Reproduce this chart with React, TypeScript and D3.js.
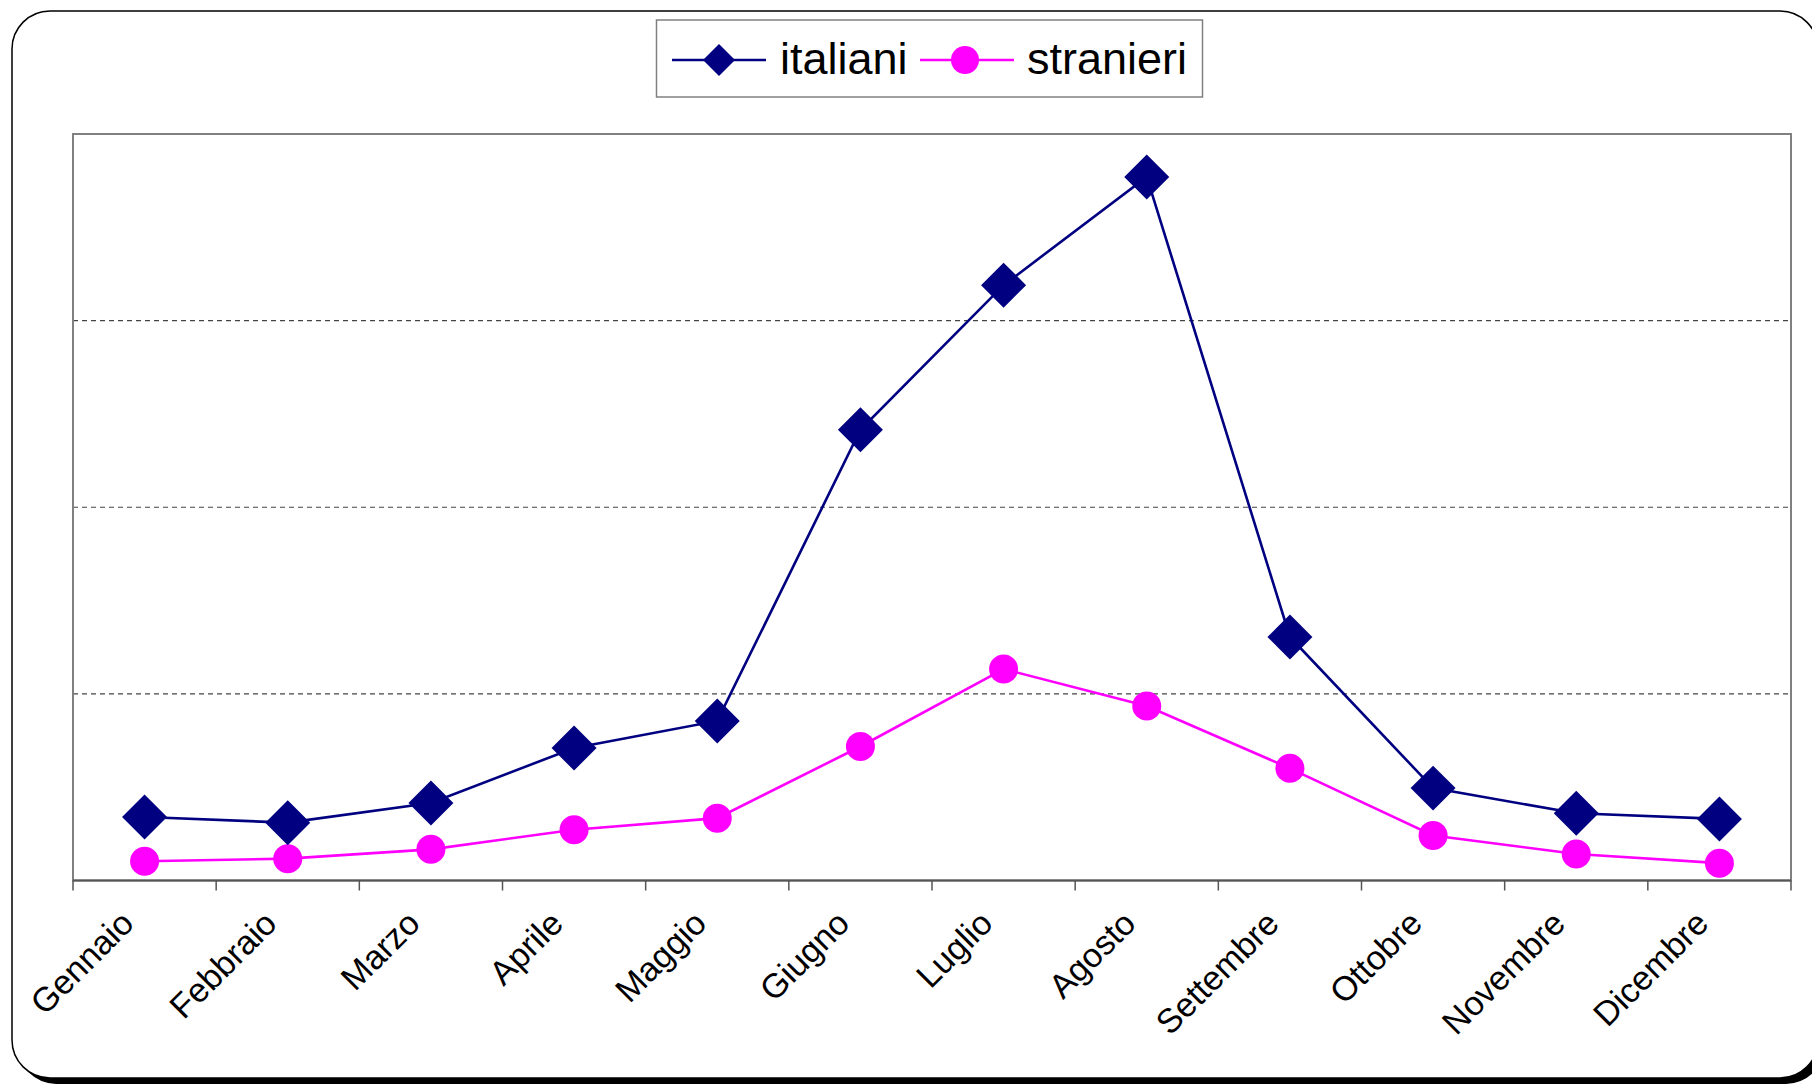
import React, { useEffect, useRef } from 'react';
import * as d3 from 'd3';

const months = [
  'Gennaio', 'Febbraio', 'Marzo', 'Aprile', 'Maggio', 'Giugno',
  'Luglio', 'Agosto', 'Settembre', 'Ottobre', 'Novembre', 'Dicembre',
];
const italiani = [34, 31, 41.5, 71, 85.5, 241.5, 319, 377, 130.5, 49.5, 36, 33];
const stranieri = [10.3, 11.7, 16.7, 27.2, 33.4, 71.8, 113.3, 93.5, 60.1, 24.1, 14.2, 9.3];
const gridValues = [100, 200, 300];

const W = 1812;
const H = 1084;
const plot = { left: 73, right: 1791, top: 134, bottom: 880.5 };
const NAVY = '#000080';
const MAGENTA = '#FF00FF';
const FONT = '"Liberation Sans", Arial, sans-serif';

export default function App() {
  const ref = useRef<SVGSVGElement>(null);

  useEffect(() => {
    if (!ref.current) return;
    const svg = d3.select(ref.current);
    svg.selectAll('*').remove();

    // outer frame with shadow (right side runs off the canvas)
    svg.append('rect')
      .attr('x', 18).attr('y', 17).attr('width', 1806).attr('height', 1067)
      .attr('rx', 38).attr('fill', '#000');
    svg.append('rect')
      .attr('x', 12).attr('y', 11).attr('width', 1806).attr('height', 1067)
      .attr('rx', 38).attr('fill', '#fff').attr('stroke', '#000').attr('stroke-width', 1.5);

    const x = d3.scaleBand<string>().domain(months).range([plot.left, plot.right]);
    const y = d3.scaleLinear().domain([0, 400]).range([plot.bottom, plot.top]);
    const cx = (m: string) => (x(m) ?? 0) + x.bandwidth() / 2;

    // gridlines
    svg.append('g')
      .selectAll('line')
      .data(gridValues)
      .enter()
      .append('line')
      .attr('x1', plot.left).attr('x2', plot.right)
      .attr('y1', (d) => y(d)).attr('y2', (d) => y(d))
      .attr('stroke', '#444').attr('stroke-width', 1.2).attr('stroke-dasharray', '5,4');

    // plot border
    svg.append('rect')
      .attr('x', plot.left).attr('y', plot.top)
      .attr('width', plot.right - plot.left).attr('height', plot.bottom - plot.top)
      .attr('fill', 'none').attr('stroke', '#808080').attr('stroke-width', 2);

    // x axis
    const ticks = months.map((m) => x(m) ?? 0).concat([plot.right]);
    svg.append('line')
      .attr('x1', plot.left).attr('x2', plot.right)
      .attr('y1', plot.bottom).attr('y2', plot.bottom)
      .attr('stroke', '#555').attr('stroke-width', 2);
    svg.append('g')
      .selectAll('line')
      .data(ticks)
      .enter()
      .append('line')
      .attr('x1', (d) => d).attr('x2', (d) => d)
      .attr('y1', plot.bottom).attr('y2', plot.bottom + 10)
      .attr('stroke', '#555').attr('stroke-width', 1.5);

    svg.append('g')
      .selectAll('text')
      .data(months)
      .enter()
      .append('text')
      .attr('transform', (m) => `translate(${cx(m) - 9}, ${plot.bottom + 45}) rotate(-45)`)
      .attr('text-anchor', 'end')
      .style('font-family', FONT)
      .style('font-size', '34px')
      .attr('fill', '#000')
      .text((m) => m);

    const line = d3.line<number>()
      .x((_, i) => cx(months[i]))
      .y((d) => y(d));

    // stranieri
    svg.append('path')
      .datum(stranieri)
      .attr('d', line)
      .attr('fill', 'none').attr('stroke', MAGENTA).attr('stroke-width', 2.6);
    svg.append('g')
      .selectAll('circle')
      .data(stranieri)
      .enter()
      .append('circle')
      .attr('cx', (_, i) => cx(months[i]))
      .attr('cy', (d) => y(d))
      .attr('r', 14.5)
      .attr('fill', MAGENTA);

    // italiani
    svg.append('path')
      .datum(italiani)
      .attr('d', line)
      .attr('fill', 'none').attr('stroke', NAVY).attr('stroke-width', 2.6);
    const diamond = d3.symbol().type(d3.symbolSquare).size(1012);
    svg.append('g')
      .selectAll('path')
      .data(italiani)
      .enter()
      .append('path')
      .attr('d', diamond)
      .attr('transform', (d, i) => `translate(${cx(months[i])}, ${y(d)}) rotate(45)`)
      .attr('fill', NAVY);

    // legend
    const lg = svg.append('g');
    lg.append('rect')
      .attr('x', 656.5).attr('y', 20).attr('width', 546).attr('height', 77)
      .attr('fill', '#fff').attr('stroke', '#808080').attr('stroke-width', 1.5);
    const ly = 60;
    lg.append('line')
      .attr('x1', 672).attr('x2', 766).attr('y1', ly).attr('y2', ly)
      .attr('stroke', NAVY).attr('stroke-width', 2.6);
    lg.append('path')
      .attr('d', d3.symbol().type(d3.symbolSquare).size(512)())
      .attr('transform', `translate(719, ${ly}) rotate(45)`)
      .attr('fill', NAVY);
    lg.append('text')
      .attr('x', 780).attr('y', ly + 14)
      .style('font-family', FONT).style('font-size', '45px')
      .text('italiani');
    lg.append('line')
      .attr('x1', 920).attr('x2', 1014).attr('y1', ly).attr('y2', ly)
      .attr('stroke', MAGENTA).attr('stroke-width', 2.6);
    lg.append('circle')
      .attr('cx', 965).attr('cy', ly).attr('r', 14)
      .attr('fill', MAGENTA);
    lg.append('text')
      .attr('x', 1027).attr('y', ly + 14)
      .style('font-family', FONT).style('font-size', '45px')
      .text('stranieri');
  }, []);

  return (
    <svg
      ref={ref}
      width={W}
      height={H}
      style={{ position: 'absolute', left: 0, top: 0, background: '#fff' }}
    />
  );
}
